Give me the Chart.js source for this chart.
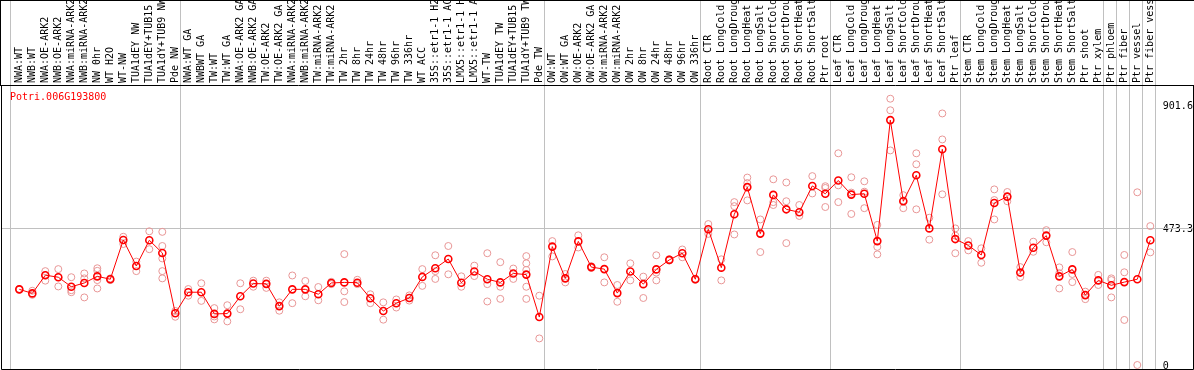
<!DOCTYPE html>
<html>
<head>
<meta charset="utf-8">
<script src="https://cdn.jsdelivr.net/npm/chart.js@4.4.1/dist/chart.umd.min.js"></script>
<style>
  html, body { margin: 0; padding: 0; background: #fff; }
  #wrap { width: 1194px; height: 370px; }
</style>
</head>
<body>
<div id="wrap"><canvas id="myChart" width="1194" height="370"></canvas></div>
<script>
const geneName = "Potri.006G193800";

const samples = [
  "NWA:WT", "NWB:WT", "NWA:OE-ARK2", "NWB:OE-ARK2", "NWA:miRNA-ARK2", "NWB:miRNA-ARK2",
  "NW 0hr", "WT H2O", "WT-NW", "TUA1dEY NW", "TUA1dEY+TUB15 NW", "TUA1dY+TUB9 NW", "Pde NW",
  "NWA:WT GA", "NWBWT GA", "TW:WT", "TW:WT GA", "NWA:OE-ARK2 GA", "NWB:OE-ARK2 GA",
  "TW:OE-ARK2", "TW:OE-ARK2 GA", "NWA:miRNA-ARK2 GA", "NWB:miRNA-ARK2 GA", "TW:miRNA-ARK2",
  "TW:miRNA-ARK2 GA", "TW 2hr", "TW 8hr", "TW 24hr", "TW 48hr", "TW 96hr", "TW 336hr",
  "WT ACC", "35S::etr1-1 H2O", "35S::etr1-1 ACC", "LMX5::etr1-1 H2O", "LMX5::etr1-1 ACC",
  "WT-TW", "TUA1dEY TW", "TUA1dEY+TUB15 TW", "TUA1dY+TUB9 TW", "Pde TW",
  "OW:WT", "OW:WT GA", "OW:OE-ARK2", "OW:OE-ARK2 GA", "OW:miRNA-ARK2", "OW:miRNA-ARK2 GA",
  "OW 2hr", "OW 8hr", "OW 24hr", "OW 48hr", "OW 96hr", "OW 336hr",
  "Root CTR", "Root LongCold", "Root LongDrought", "Root LongHeat", "Root LongSalt",
  "Root ShortCold", "Root ShortDrought", "Root ShortHeat", "Root ShortSalt", "Ptr root",
  "Leaf CTR", "Leaf LongCold", "Leaf LongDrought", "Leaf LongHeat", "Leaf LongSalt",
  "Leaf ShortCold", "Leaf ShortDrought", "Leaf ShortHeat", "Leaf ShortSalt", "Ptr leaf",
  "Stem CTR", "Stem LongCold", "Stem LongDrought", "Stem LongHeat", "Stem LongSalt",
  "Stem ShortCold", "Stem ShortDrought", "Stem ShortHeat", "Stem ShortSalt",
  "Ptr shoot", "Ptr xylem", "Ptr phloem", "Ptr fiber", "Ptr vessel", "Ptr fiber vessel"
];

// mean expression per sample
const means = [
  262, 248, 311, 304, 271, 284, 307, 297, 433, 343, 432, 388, 179,
  252, 252, 177, 178, 238, 282, 281, 204, 262, 262, 245, 284, 286, 285, 231,
  187, 214, 232, 305, 335, 367, 285, 324, 297, 286, 317, 313, 166,
  410, 300, 428, 339, 332, 249, 324, 280, 331, 364, 387, 297,
  470, 337, 522, 616, 455, 589, 539, 529, 620, 593,
  639, 590, 593, 429, 848, 567, 657, 473, 747, 436,
  414, 381, 561, 583, 320, 406, 448, 307, 331, 242, 293,
  276, 287, 297, 432
];

// single replicates per sample
const replicates = [
  [261, 263], [257, 243], [325, 292, 311], [332, 272, 304], [304, 252, 259], [317, 234, 300],
  [335, 326, 294, 265], [300, 294], [444, 419], [358, 325], [463, 401],
  [461, 412, 369, 325, 300], [187, 167],
  [263, 240], [283, 222], [197, 158, 168], [207, 151], [283, 193], [292, 271], [292, 267],
  [217, 188], [310, 214], [291, 238], [270, 224], [288, 280], [384, 255, 218], [295, 280],
  [245, 214],
  [217, 157], [227, 199], [241, 223], [332, 274], [380, 298, 325], [412, 314], [307, 271],
  [344, 308], [387, 280, 220], [356, 271, 229], [334, 298], [377, 352, 329, 271, 229],
  [240, 92],
  [429, 376], [315, 286], [449, 407], [342, 336], [373, 286], [277, 219], [352, 293],
  [306, 232], [380, 293, 320], [366, 362], [400, 373], [299, 295],
  [488, 454], [366, 293], [564, 452, 550], [649, 570, 630], [504, 391], [643, 564, 554],
  [632, 567, 422], [554, 516], [654, 594], [613, 547, 619],
  [733, 622, 564], [650, 523, 597], [636, 543, 600], [485, 409, 383], [922, 882, 743],
  [588, 543, 570], [733, 695, 539], [510, 434], [871, 781, 591], [473, 387, 448],
  [429, 397], [404, 354], [608, 504, 571], [599, 583, 567], [339, 305], [427, 392],
  [467, 425], [338, 265, 318], [391, 287, 315], [228, 254], [312, 277],
  [294, 234, 300], [381, 321, 156], [598, 0], [481, 390]
];

// index of the last sample in each group (gray separators)
const groupEnds = [12, 40, 52, 62, 72, 83, 84, 85, 86, 87];
const yTicks = [0, 473.3, 901.6];

const monoFont = { family: "'DejaVu Sans Mono', monospace", size: 10 };

let repSets = [];
for (let k = 0; k < 5; k++) {
  repSets.push({
    type: 'line',
    data: replicates.map(r => (r[k] === undefined ? null : r[k])),
    showLine: false,
    pointRadius: 3.5,
    pointBorderWidth: 1,
    pointBorderColor: 'rgb(232,150,150)',
    pointBackgroundColor: 'rgba(0,0,0,0)',
    order: 2
  });
}

const framePlugin = {
  id: 'framePlugin',
  beforeDatasetsDraw(chart) {
    const ctx = chart.ctx;
    const x = chart.scales.x;
    const y = chart.scales.y;
    const W = chart.width, H = chart.height;
    const step = x.getPixelForValue(1) - x.getPixelForValue(0);
    ctx.save();
    ctx.lineWidth = 1;
    ctx.strokeStyle = '#c0c0c0';
    ctx.beginPath();
    let gy = Math.round(y.getPixelForValue(yTicks[1])) + 0.5;
    ctx.moveTo(1, gy); ctx.lineTo(W - 1, gy);
    let lx = Math.round(x.getPixelForValue(0) - step / 2 - 3) + 0.5;
    ctx.moveTo(lx, 0); ctx.lineTo(lx, H - 1);
    groupEnds.forEach(i => {
      let sx = Math.round(x.getPixelForValue(i) + step / 2 - 1.5) + 0.5;
      ctx.moveTo(sx, 0); ctx.lineTo(sx, H - 1);
    });
    ctx.stroke();

    // black frame
    ctx.strokeStyle = '#000';
    ctx.beginPath();
    ctx.moveTo(0, 0.5); ctx.lineTo(W, 0.5);
    ctx.moveTo(0.5, 0); ctx.lineTo(0.5, 85);
    ctx.moveTo(0, 85.5); ctx.lineTo(W, 85.5);
    ctx.moveTo(1.5, 85.5); ctx.lineTo(1.5, H - 0.5);
    ctx.lineTo(W - 0.5, H - 0.5);
    ctx.lineTo(W - 0.5, 85.5);
    ctx.stroke();

    ctx.fillStyle = '#ff0000';
    ctx.font = "10px 'DejaVu Sans Mono', monospace";
    ctx.textBaseline = 'middle';
    ctx.textAlign = 'left';
    ctx.fillText(geneName, 10, 97);
    ctx.restore();
  }
};

var ctx = document.getElementById('myChart').getContext('2d');
var myChart = new Chart(ctx, {
  data: {
    labels: samples,
    datasets: [{
      type: 'line',
      data: means,
      borderColor: '#ff0000',
      borderWidth: 1,
      pointRadius: 3.5,
      pointBorderWidth: 1.6,
      pointBorderColor: '#ff0000',
      pointBackgroundColor: 'rgba(0,0,0,0)',
      fill: false,
      tension: 0,
      order: 1
    }].concat(repSets)
  },
  options: {
    responsive: false,
    animation: false,
    events: [],
    layout: { autoPadding: false, padding: { left: 12.8, right: 0, top: 0, bottom: 0 } },
    plugins: { legend: { display: false }, tooltip: { enabled: false }, title: { display: false } },
    scales: {
      x: {
        type: 'category',
        position: 'top',
        offset: true,
        grid: { display: false, drawTicks: false },
        border: { display: false },
        ticks: {
          autoSkip: false,
          minRotation: 90,
          maxRotation: 90,
          padding: 2,
          labelOffset: 12,
          color: '#000',
          font: monoFont
        },
        afterFit: (s) => { s.height = 85; }
      },
      y: {
        position: 'right',
        min: -17.3,
        max: 969.5,
        grid: { display: false, drawTicks: false },
        border: { display: false },
        afterBuildTicks: (s) => { s.ticks = yTicks.map(v => ({ value: v })); },
        ticks: {
          padding: 6,
          labelOffset: 1.5,
          color: '#000',
          font: monoFont,
          callback: (v) => String(v)
        },
        afterFit: (s) => { s.width = 37.2; s.paddingTop = 0; s.paddingBottom = 0; }
      }
    }
  },
  plugins: [framePlugin]
});
</script>
</body>
</html>
